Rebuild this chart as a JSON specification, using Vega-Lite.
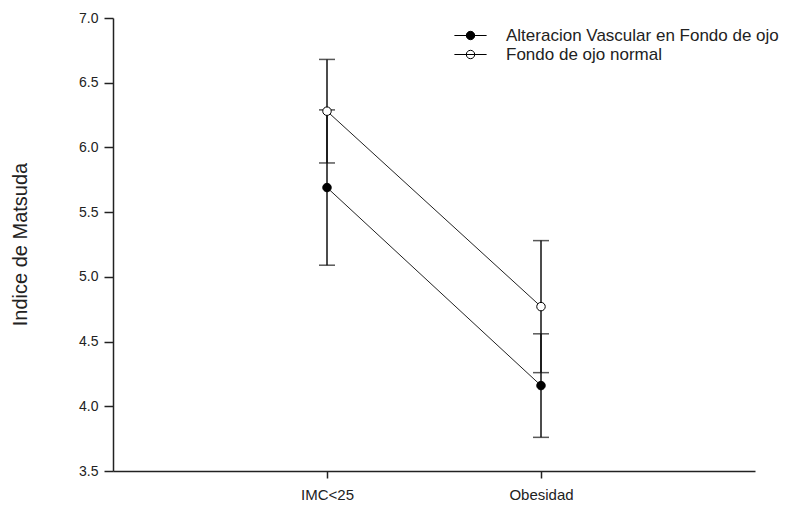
{
  "$schema": "https://vega.github.io/schema/vega-lite/v6.json",
  "autosize": {"type": "none"},
  "width": 642,
  "height": 453,
  "padding": {"left": 113, "top": 18, "right": 41, "bottom": 36},
  "background": "white",
  "config": {
    "view": {"stroke": null},
    "font": "Liberation Sans",
    "axis": {
      "grid": false,
      "domainColor": "#222222",
      "domainWidth": 1.5,
      "tickColor": "#222222",
      "tickWidth": 1.5,
      "labelColor": "#222222",
      "labelFont": "Liberation Sans",
      "titleFont": "Liberation Sans"
    }
  },
  "data": {
    "values": [
      {"grupo": "IMC<25", "serie": "Alteracion Vascular en Fondo de ojo", "media": 5.69, "bajo": 5.09, "alto": 6.29},
      {"grupo": "IMC<25", "serie": "Fondo de ojo normal", "media": 6.28, "bajo": 5.88, "alto": 6.68},
      {"grupo": "Obesidad", "serie": "Alteracion Vascular en Fondo de ojo", "media": 4.16, "bajo": 3.76, "alto": 4.56},
      {"grupo": "Obesidad", "serie": "Fondo de ojo normal", "media": 4.77, "bajo": 4.26, "alto": 5.28}
    ]
  },
  "encoding": {
    "x": {
      "field": "grupo",
      "type": "nominal",
      "sort": ["IMC<25", "Obesidad"],
      "scale": {"type": "point", "padding": 1},
      "axis": {
        "title": null,
        "labelAngle": 0,
        "labelFontSize": 15,
        "labelPadding": 9,
        "tickSize": 7
      }
    }
  },
  "layer": [
    {
      "mark": {"type": "rule", "color": "#111111", "strokeWidth": 1.5},
      "encoding": {
        "y": {
          "field": "bajo",
          "type": "quantitative",
          "scale": {"domain": [3.5, 7.0], "nice": false, "zero": false},
          "axis": {
            "title": "Indice de Matsuda",
            "values": [3.5, 4.0, 4.5, 5.0, 5.5, 6.0, 6.5, 7.0],
            "format": ".1f",
            "labelFontSize": 14,
            "labelPadding": 6,
            "tickSize": 9,
            "titleFontSize": 20,
            "titleFontWeight": "normal",
            "titleColor": "#222222",
            "titleAngle": -90,
            "titleX": -93,
            "titleY": 226,
            "titleAlign": "center",
            "titleBaseline": "middle"
          }
        },
        "y2": {"field": "alto"}
      }
    },
    {
      "mark": {"type": "tick", "color": "#111111", "size": 16, "thickness": 1.5},
      "encoding": {"y": {"field": "bajo", "type": "quantitative"}}
    },
    {
      "mark": {"type": "tick", "color": "#111111", "size": 16, "thickness": 1.5},
      "encoding": {"y": {"field": "alto", "type": "quantitative"}}
    },
    {
      "mark": {"type": "line", "color": "#222222", "strokeWidth": 1},
      "encoding": {
        "y": {"field": "media", "type": "quantitative"},
        "detail": {"field": "serie", "type": "nominal"}
      }
    },
    {
      "mark": {"type": "point", "shape": "circle", "size": 72, "stroke": "#000000", "strokeWidth": 1, "opacity": 1, "filled": false},
      "encoding": {
        "y": {"field": "media", "type": "quantitative"},
        "fill": {
          "field": "serie",
          "type": "nominal",
          "scale": {
            "domain": ["Alteracion Vascular en Fondo de ojo", "Fondo de ojo normal"],
            "range": ["#000000", "#ffffff"]
          },
          "legend": {
            "title": null,
            "orient": "none",
            "legendX": 349,
            "legendY": 9,
            "padding": 0,
            "symbolType": "M-2.3,0H2.3M0.6,0A0.6,0.6 0 1,1 -0.6,0A0.6,0.6 0 1,1 0.6,0Z",
            "symbolSize": 196,
            "symbolStrokeColor": "#000000",
            "symbolStrokeWidth": 1,
            "symbolOpacity": 1,
            "labelOffset": 27,
            "labelFontSize": 17,
            "labelColor": "#222222",
            "labelLimit": 400,
            "rowPadding": 1
          }
        }
      }
    }
  ]
}
